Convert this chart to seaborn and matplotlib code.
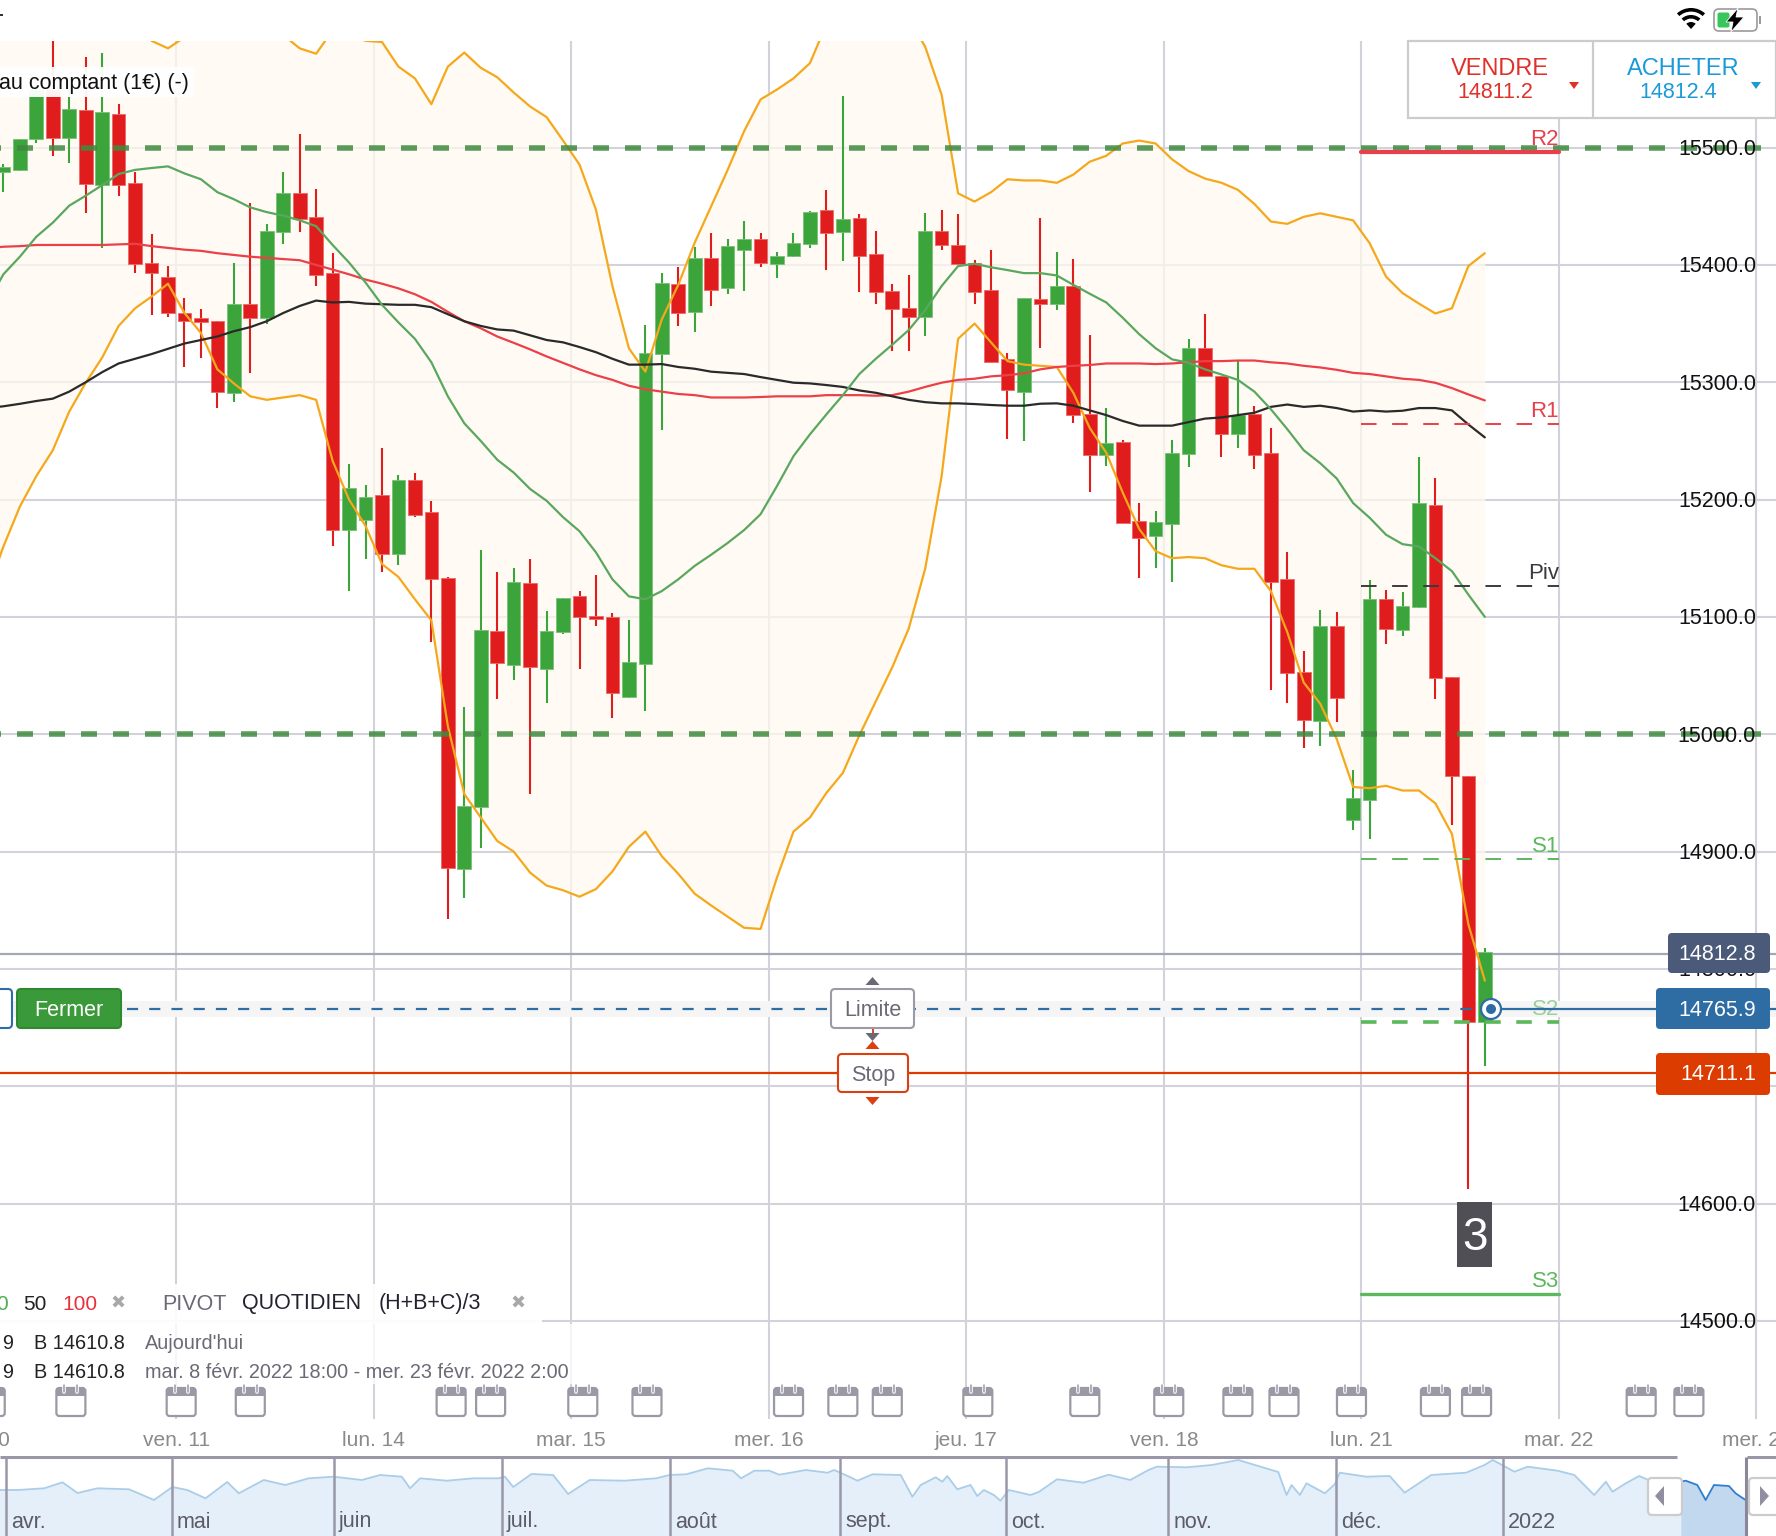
import matplotlib
matplotlib.use("Agg")
import matplotlib.pyplot as plt
from matplotlib.patches import FancyBboxPatch, Rectangle, Circle, Polygon, Wedge
from matplotlib.transforms import blended_transform_factory
import pandas as pd
import seaborn as sns

# candles, 2 hour bars
opens = [15479, 15481, 15507, 15549, 15508, 15532, 15468, 15529, 15470, 15402, 15390, 15359, 15355, 15352, 15291,
         15367, 15355, 15428, 15461, 15441, 15393, 15174, 15183, 15204, 15154, 15217, 15189, 15133.5, 14885, 14938,
         15088, 15059, 15129, 15056, 15087, 15118, 15101, 15100, 15032, 15060, 15324, 15384, 15360, 15406, 15380,
         15413, 15422, 15401, 15407.5, 15418, 15447, 15428, 15440, 15409, 15378, 15363, 15356, 15429, 15417, 15402,
         15378.5, 15319.5, 15292, 15371, 15367, 15382, 15273, 15238, 15249, 15182, 15169, 15179, 15239, 15329,
         15305.5, 15256, 15273, 15240, 15132, 15053, 15011, 15092.5, 14927, 14944, 15115.5, 15089, 15108.5, 15195,
         15049, 14964, 14754.4]
closes = [15483.5, 15507, 15549, 15508, 15533, 15469, 15530, 15468, 15401, 15393, 15359, 15352, 15351, 15292, 15367,
          15355, 15429, 15461, 15439, 15391, 15174, 15210, 15202.5, 15154, 15217, 15187, 15132, 14886, 14939, 15089,
          15060.5, 15130, 15057, 15088, 15116, 15100, 15098, 15035, 15061.6, 15325, 15384.5, 15359, 15405.5, 15379,
          15416, 15422, 15402, 15408, 15419, 15445, 15427, 15439, 15408, 15377, 15362, 15356, 15428.5, 15417, 15401,
          15377, 15317, 15293, 15372, 15367, 15382, 15272, 15238, 15248, 15180, 15167, 15181, 15240, 15329, 15305,
          15256, 15272.5, 15238, 15130, 15052, 15012, 15092, 15031, 14946, 15115, 15090, 15109, 15197, 15048, 14964,
          14755, 14814.6]
highs = [15486, 15507, 15560, 15595, 15560, 15577, 15581, 15537, 15479, 15426, 15399, 15372, 15362, 15352, 15402,
         15453, 15435, 15479, 15512, 15465, 15410, 15230, 15212, 15244, 15221, 15223, 15199, 15134, 15023, 15157,
         15138, 15141.5, 15149, 15105, 15116, 15122, 15136, 15103, 15097, 15349, 15393, 15398, 15415, 15427, 15422,
         15437.6, 15427, 15411, 15427, 15446, 15464, 15544, 15443, 15429, 15384, 15391, 15444, 15447, 15443, 15404,
         15413, 15325, 15372, 15440, 15411, 15405, 15340, 15278, 15251, 15197, 15190, 15251, 15336.5, 15358, 15305.5,
         15318, 15280, 15260.6, 15155, 15071, 15106, 15104, 14969.6, 15131.5, 15123, 15121, 15236.5, 15218, 15049,
         14964, 14818]
lows = [15462, 15480, 15504, 15493, 15487, 15444, 15414, 15459, 15393, 15357, 15356, 15313, 15321, 15278, 15283,
        15308, 15350, 15418, 15428, 15382, 15160, 15122, 15149, 15138, 15144, 15185, 15079, 14842.5, 14860, 14903,
        15030, 15046, 14949, 15027, 15085, 15056, 15092, 15014, 15031, 15020, 15259, 15348, 15343, 15365, 15375,
        15378, 15398, 15389, 15407, 15414, 15396, 15403, 15377, 15367, 15327, 15327, 15339, 15413, 15401, 15367,
        15317, 15252, 15250, 15329, 15361.5, 15265.5, 15206.5, 15229, 15180, 15133, 15142, 15130, 15228, 15305,
        15236, 15243.6, 15226, 15038, 15027, 14988, 14990, 15010.5, 14918.5, 14910.6, 15077, 15084, 15108, 15030,
        14923, 14612, 14717]

# indicator lines, first value is the bar before the left edge
bb_upper = [15660, 15660, 15655, 15650, 15650, 15645, 15640, 15630, 15620, 15606, 15591, 15584.6, 15594, 15610, 15625,
            15635, 15630, 15615, 15596, 15584.6, 15580, 15600, 15598, 15591, 15590, 15569, 15559, 15537, 15569, 15581,
            15568, 15560, 15547, 15535, 15526, 15506, 15485.5, 15447, 15382, 15329, 15309, 15353.6, 15383, 15419,
            15450, 15481, 15514, 15541, 15549.5, 15559, 15572, 15605, 15650, 15665, 15660, 15640, 15610, 15586, 15545,
            15461, 15454, 15462, 15473, 15472, 15472, 15470, 15477, 15488, 15493, 15503.5, 15506, 15503.5, 15490,
            15480, 15473.6, 15470, 15464, 15452, 15437, 15435, 15441, 15444, 15441, 15438, 15418.6, 15390, 15376,
            15367, 15358.6, 15363, 15399, 15410]
bb_lower = [15120, 15160, 15194, 15220, 15242, 15275, 15299.5, 15321, 15348, 15363, 15373, 15384, 15359, 15342, 15311,
            15299, 15288, 15285, 15287, 15289, 15285, 15233, 15200, 15177.5, 15145, 15134, 15115, 15097, 15007, 14949,
            14929, 14909, 14900, 14882, 14871, 14867, 14861.5, 14868, 14883, 14904, 14917, 14896, 14881, 14864, 14854,
            14844.5, 14835, 14834, 14878, 14917, 14929, 14950, 14967, 14999, 15028, 15057, 15090, 15141, 15220, 15337,
            15350, 15334, 15318, 15315, 15314, 15313, 15291, 15261, 15240, 15206, 15175, 15156, 15150, 15151, 15150,
            15144, 15141, 15141, 15122, 15087, 15044, 15026, 14996, 14955, 14954, 14956, 14952, 14952, 14941, 14915,
            14838, 14790]
sma_20 = [15367, 15392, 15407, 15424, 15436, 15450.5, 15459, 15468, 15477.5, 15481, 15482.6, 15484, 15478, 15473, 15462,
          15456, 15449, 15445, 15442, 15438, 15433, 15417, 15402, 15385, 15366, 15351, 15337, 15317, 15288, 15265,
          15250, 15234, 15223, 15209, 15199, 15185, 15173, 15155, 15132, 15117.5, 15115, 15122, 15132, 15143.5, 15153,
          15163, 15174, 15187.5, 15211.6, 15237, 15255.6, 15272.6, 15289, 15307, 15320, 15332, 15344.5, 15361.5,
          15382, 15399, 15401, 15398, 15395.6, 15393, 15393, 15391, 15383, 15375.4, 15368, 15355, 15341, 15329,
          15319.5, 15316.6, 15311, 15306.6, 15302, 15292, 15277, 15260, 15242, 15231, 15218, 15197, 15184.5, 15170,
          15162, 15160, 15150, 15139, 15119, 15100]
sma_50 = [15278, 15279.5, 15281.6, 15284, 15286, 15292, 15300, 15308.6, 15316, 15320, 15324, 15328.5, 15333, 15336, 15339,
          15343.5, 15347, 15352, 15359, 15365, 15369.6, 15368, 15368.5, 15367, 15366.5, 15366, 15366, 15364, 15358,
          15352, 15348, 15345, 15344, 15340, 15336, 15334, 15330, 15325.6, 15320, 15315, 15315, 15315.5, 15313,
          15311.5, 15309, 15308, 15307, 15304.4, 15302, 15299.6, 15299, 15297.6, 15296, 15293, 15291, 15288, 15285,
          15283, 15282, 15282, 15281.4, 15280.6, 15280, 15280, 15281.7, 15282, 15280, 15276, 15272, 15267, 15263,
          15263, 15263, 15266, 15269, 15270, 15272, 15274, 15279, 15281, 15279, 15280, 15278, 15275, 15276, 15275,
          15275.7, 15278, 15278, 15276, 15264, 15253]
sma_100 = [15414, 15415.5, 15416, 15417, 15417, 15417, 15417, 15417, 15417.5, 15418, 15416, 15414.5, 15413, 15412, 15410,
           15408.5, 15407, 15406, 15405, 15404, 15400, 15396, 15392, 15387.5, 15384, 15380, 15375, 15368.5, 15360,
           15352, 15346, 15339, 15333.6, 15328, 15322, 15316.5, 15311, 15306, 15302, 15297, 15294, 15292, 15290, 15289,
           15287, 15287, 15287, 15287.4, 15288, 15288, 15288, 15289, 15289, 15289, 15288.5, 15289, 15292, 15296,
           15299.6, 15302, 15303, 15305, 15306, 15307.6, 15311, 15313, 15314, 15314.7, 15316, 15316, 15316, 15315.5,
           15316, 15317, 15318, 15318, 15318.5, 15318.5, 15317, 15316, 15314, 15312.6, 15310.6, 15308, 15307, 15305,
           15303, 15302, 15299.5, 15295, 15289.6, 15284.5]

price_ticks = [15500, 15400, 15300, 15200, 15100, 15000, 14900, 14800, 14700, 14600, 14500]
round_levels = [15500, 15000]
day_positions = [-1.5, 10.5, 22.5, 34.5, 46.5, 58.5, 70.5, 82.5, 94.5, 106.5]
day_labels = ["jeu. 10", "ven. 11", "lun. 14", "mar. 15", "mer. 16", "jeu. 17", "ven. 18", "lun. 21", "mar. 22", "mer. 23"]
calendar_bars = [-0.8, 4.1, 10.8, 15, 27.2, 29.6, 35.2, 39.1, 47.7, 51, 53.7, 59.2, 65.7, 70.8, 75, 77.8, 81.9, 87,
                 89.5, 99.5, 102.4]

pivot_names = ["R2", "R1", "Piv", "S1", "S2", "S3"]
pivot_values = [15496, 15264, 15126, 14893.5, 14754.7, 14523]

last_price = 14812.8
position_price = 14765.9
stop_price = 14711.1

# navigator at the bottom
month_names = ["avr.", "mai", "juin", "juil.", "août", "sept.", "oct.", "nov.", "déc.", "2022"]
month_starts = [0, 0.998, 1.972, 2.982, 3.993, 5.015, 6.013, 6.988, 7.998, 9.0]
nav_months = [-0.04, 0.07, 0.23, 0.34, 0.43, 0.55, 0.74, 0.89, 1.0, 1.09, 1.2, 1.33, 1.4, 1.55, 1.68, 1.82, 1.97, 2.14,
              2.25, 2.38, 2.43, 2.49, 2.65, 2.81, 2.96, 3.0, 3.05, 3.16, 3.29, 3.38, 3.51, 3.72, 3.91, 3.99, 4.09, 4.22,
              4.37, 4.42, 4.5, 4.59, 4.65, 4.81, 4.94, 4.98, 5.07, 5.12, 5.21, 5.38, 5.45, 5.5, 5.59, 5.63, 5.66, 5.72,
              5.8, 5.84, 5.88, 5.94, 5.98, 6.03, 6.16, 6.21, 6.32, 6.48, 6.63, 6.76, 6.87, 6.92, 7.1, 7.25, 7.41, 7.61,
              7.65, 7.7, 7.73, 7.78, 7.82, 7.93, 7.99, 8.02, 8.18, 8.32, 8.41, 8.57, 8.78, 8.89, 8.94, 9.07, 9.15, 9.33,
              9.43, 9.55, 9.62, 9.66, 9.74, 9.82, 9.9, 10.07]
nav_heights = [46, 46, 47.7, 53.7, 43, 47.7, 46.7, 36, 49, 46, 37.7, 54, 42.7, 56, 51, 57.7, 59.3, 56, 61, 59.3, 47.7,
               57.7, 55.3, 57.7, 57.7, 59.3, 49, 62, 61, 42, 56, 55.3, 57.7, 61, 61.7, 67.7, 65.3, 57.7, 65.3, 65.3,
               61.3, 66, 63.3, 66, 59.3, 55.3, 61.7, 61, 39.3, 51, 58.7, 54.3, 60, 46.7, 51, 40, 46, 41, 35.3, 46, 41,
               44, 56.7, 53.3, 61.3, 56, 66, 69.3, 68.7, 71, 76, 66, 64, 41, 51, 41, 52.7, 42.7, 51.7, 63.3, 59.3, 60,
               43.3, 61, 63.3, 71, 76, 64.3, 69.3, 65.3, 61, 41, 54.3, 44.3, 52.7, 60, 54.3, 54.3]
sel_months = [10.07, 10.1, 10.17, 10.22, 10.27, 10.36, 10.4, 10.46]
sel_heights = [54.3, 55.3, 51, 36, 51, 50, 42.7, 36]

sns.set_theme(style="white")
plt.rcParams["font.family"] = ["Liberation Sans", "DejaVu Sans"]

W, H = 1776, 1536
XLIM = (-0.2066, 107.69)
YLIM = (14316.6, 15625.8)
fig = plt.figure(figsize=(W / 100, H / 100), dpi=100)

# main chart fills the whole image, limits come from the pixel positions of the grid
ax = fig.add_axes([0, 0, 1, 1], zorder=1)
ax.set_xlim(*XLIM)
ax.set_ylim(*YLIM)

nav = fig.add_axes([0, 0, 1, 80 / H], zorder=2)
nav.set_xlim(-0.036, 10.643)
nav.set_ylim(0, 80)

ui = fig.add_axes([0, 0, 1, 1], zorder=3)
ui.set_xlim(0, W)
ui.set_ylim(H, 0)
ui.patch.set_alpha(0)
for a in (ax, nav, ui):
    a.axis("off")

px_price = blended_transform_factory(ui.transData, ax.transData)

grid_color = "#d2d2da"
ax.hlines(price_ticks, *XLIM, color=grid_color, lw=1.5, zorder=1)
ax.vlines(day_positions[1:], 14416.5, YLIM[1], color=grid_color, lw=1.5, zorder=1)

line_idx = list(range(-1, 91))
ax.fill_between(line_idx, bb_lower, bb_upper, color="#fffaf0", alpha=0.72, lw=0, zorder=2)

# candles
bar_idx = list(range(len(opens)))
red, green = "#e01c1c", "#3ba43b"
colors = [green if c >= o else red for o, c in zip(opens, closes)]
edges = ["#79c079" if c >= o else "#ea6a6a" for o, c in zip(opens, closes)]
ax.vlines(bar_idx, lows, highs, colors=colors, lw=1.5, zorder=3)
ax.bar(bar_idx, [c - o for o, c in zip(opens, closes)], bottom=opens, width=0.83, color=colors,
       edgecolor=edges, linewidth=0.6, zorder=4)

# bollinger + moving averages
lines = pd.DataFrame({"bar": line_idx, "bb_upper": bb_upper, "bb_lower": bb_lower,
                      "sma_100": sma_100, "sma_50": sma_50, "sma_20": sma_20})
long_lines = lines.melt(id_vars="bar", var_name="line", value_name="price")
palette = {"bb_upper": "#f6a81c", "bb_lower": "#f6a81c", "sma_100": "#ec4048", "sma_50": "#2a2a2a", "sma_20": "#5aa75f"}
sns.lineplot(data=long_lines, x="bar", y="price", hue="line", palette=palette, estimator=None, sort=False,
             legend=False, linewidth=1.6, ax=ax, zorder=5)
ax.set_xlim(*XLIM)
ax.set_ylim(*YLIM)
ax.axis("off")

# round number levels
for level in round_levels:
    ax.plot([XLIM[0], 106.75], [level, level], color="#3f8a3f", alpha=0.85, lw=4,
            linestyle=(2.7, (2.88, 2.88)), dash_capstyle="butt", zorder=6)

# pivots
pivot_colors = ["#e8404a", "#e8404a", "#3a3a40", "#5cb85c", "#5cb85c", "#5cb85c"]
pivot_widths = [3.0, 1.4, 1.4, 1.4, 2.6, 2.4]
pivot_styles = ["-", (0, (8, 8)), (0, (8, 8)), (0, (8, 8)), (0, (4.3, 4.3)), "-"]
for name, value, col, lw, ls in zip(pivot_names, pivot_values, pivot_colors, pivot_widths, pivot_styles):
    ax.plot([82.5, 94.5], [value, value], color=col, lw=lw, linestyle=ls, dash_capstyle="butt", zorder=6)
    ax.annotate(name, xy=(1559, value), xycoords=px_price, xytext=(0, 1.5), textcoords="offset points",
                ha="right", va="bottom", fontsize=16, color=col, alpha=0.6 if name == "S2" else 1, zorder=6)

# order lines
ax.axhspan(position_price - 6.8, position_price + 6.8, color="#f5f5f6", lw=0, zorder=1.5)
ax.hlines(last_price, *XLIM, color="#a4a8b6", lw=1.6, zorder=2.5)
ax.plot([7.5, 90.4], [position_price, position_price], color="#2e6ca4", lw=1.6, linestyle=(0, (5, 5)), zorder=7)
ax.plot([90.4, XLIM[1]], [position_price, position_price], color="#2e6ca4", lw=1.6, zorder=7)
ax.hlines(stop_price, *XLIM, color="#dd3c00", lw=1.6, zorder=7)

# price axis labels
for tick in price_ticks:
    ax.annotate(f"{tick:.1f}", xy=(1756, tick), xycoords=px_price, xytext=(0, -1.4), textcoords="offset points",
                ha="right", va="center", fontsize=15.5, color="#111111", zorder=8)

# navigator
nav.fill_between(nav_months, 0, nav_heights, color="#e4eff9", lw=0, zorder=1)
nav.fill_between(sel_months, 0, sel_heights, color="#c2d8ee", lw=0, zorder=1)
sns.lineplot(x=nav_months, y=nav_heights, color="#aacde9", linewidth=1.3, estimator=None, sort=False, ax=nav, zorder=2)
sns.lineplot(x=sel_months, y=sel_heights, color="#2e7fcf", linewidth=1.3, estimator=None, sort=False, ax=nav, zorder=2)
nav.set_xlim(-0.036, 10.643)
nav.set_ylim(0, 80)
nav.axis("off")
for m, name in zip(month_starts, month_names):
    nav.vlines(m, 0, 79, color="#9a98a8", lw=1.8, zorder=3)
    nav.text(m + 0.03, 14, name, ha="left", va="center", fontsize=15.5, color="#5d5b66", zorder=3)
nav.hlines(79, -0.036, 10.05, color="#9a98a8", lw=2.2, zorder=3)
nav.hlines(79, 10.47, 10.643, color="#9a98a8", lw=2.2, zorder=3)
nav.vlines(10.46, 0, 79, color="#8a8898", lw=2.2, zorder=3)


def box(x0, y0, x1, y1, face, edge="none", lw=1.5, radius=4, z=5, alpha=1):
    ui.add_patch(FancyBboxPatch((x0 + radius, y0 + radius), x1 - x0 - 2 * radius, y1 - y0 - 2 * radius,
                                boxstyle=f"round,pad={radius},rounding_size={radius}", fc=face, ec=edge, lw=lw,
                                zorder=z, alpha=alpha))


def tri(cx, y0, y1, half, color, z=6):
    ui.add_patch(Polygon([(cx - half, y1), (cx + half, y1), (cx, y0)], closed=True, fc=color, ec="none", zorder=z))


def bar_px(i):
    return 3.4 + 16.46 * i


# white strips
ui.add_patch(Rectangle((0, 0), W, 41, fc="white", ec="none", zorder=2))
ui.add_patch(Rectangle((0, 67), 194, 30, fc="white", ec="none", alpha=0.95, zorder=2))
ui.add_patch(Rectangle((0, 1284), 542, 40, fc="white", ec="none", alpha=0.92, zorder=2))
ui.add_patch(Rectangle((0, 1324), 575, 60, fc="white", ec="none", alpha=0.8, zorder=2))

ui.text(189, 84, "au comptant (1€) (-)", ha="right", va="center", fontsize=15.5, color="#111111", zorder=3)

# trade panel top right
ui.add_patch(Rectangle((1408, 41), 368, 77, fc="white", ec="#cccccc", lw=1.6, zorder=4))
ui.plot([1593, 1593], [41, 118], color="#cccccc", lw=1.6, zorder=5)
ui.text(1500, 69, "VENDRE", ha="center", va="center", fontsize=17, color="#e0302a", zorder=6)
ui.text(1495, 92, "14811.2", ha="center", va="center", fontsize=15.5, color="#e0302a", zorder=6)
ui.text(1683, 69, "ACHETER", ha="center", va="center", fontsize=17, color="#1a9ad9", zorder=6)
ui.text(1678, 92, "14812.4", ha="center", va="center", fontsize=15.5, color="#1a9ad9", zorder=6)
ui.add_patch(Polygon([(1569, 82), (1579, 82), (1574, 89)], fc="#e0302a", ec="none", zorder=6))
ui.add_patch(Polygon([(1751, 82), (1761, 82), (1756, 89)], fc="#1a9ad9", ec="none", zorder=6))

# status bar
for r in (7, 14, 21):
    ui.add_patch(Wedge((1691, 29), r, 228, 312, width=3.6 if r > 7 else 7, fc="black", ec="none", zorder=6))
ui.add_patch(FancyBboxPatch((1716, 11), 39, 18, boxstyle="round,pad=2,rounding_size=5", fc="white", ec="#9a9a9a",
                            lw=1.2, zorder=6))
ui.add_patch(FancyBboxPatch((1718, 13), 11, 14, boxstyle="round,pad=0.5,rounding_size=2", fc="#35c759", ec="none",
                            zorder=7))
ui.add_patch(Polygon([(1738, 8), (1726, 22), (1733, 22), (1731, 32), (1744, 17), (1736, 17)], fc="black", ec="white",
                     lw=0.6, zorder=8))
ui.add_patch(Rectangle((1759, 16), 2, 8, fc="#9a9a9a", ec="none", zorder=6))
ui.add_patch(Rectangle((0, 14), 3, 2, fc="#333333", ec="none", zorder=6))

# order controls
box(-10, 989, 12, 1028, "white", "#2e6ca4")
box(17, 989, 121, 1028, "#3a9a3a", "#2f8a2f")
ui.text(69, 1011, "Fermer", ha="center", va="center", fontsize=15.5, color="white", zorder=6)
box(831, 989, 914, 1028, "white", "#9a9aa8")
ui.text(872.5, 1011, "Limite", ha="center", va="center", fontsize=15.5, color="#6a6a76", zorder=6)
tri(872.5, 977, 985, 7, "#6a6a76")
ui.plot([872.5, 872.5], [1028, 1034], color="#dd4010", lw=1.4, zorder=4)
ui.add_patch(Polygon([(865.5, 1033), (879.5, 1033), (872.5, 1041)], fc="#6a6a76", ec="none", zorder=6))
tri(872.5, 1041, 1049, 7, "#dd4010")
box(838, 1054, 908, 1092, "white", "#dd4010")
ui.text(873, 1075, "Stop", ha="center", va="center", fontsize=15.5, color="#6a6a76", zorder=6)
ui.add_patch(Polygon([(865.5, 1097), (879.5, 1097), (872.5, 1105)], fc="#dd4010", ec="none", zorder=6))

ui.add_patch(Circle((1491, 1009), 10, fc="white", ec="#2e6ca4", lw=1.6, zorder=7))
ui.add_patch(Circle((1491, 1009), 5, fc="#2e6ca4", ec="none", zorder=8))

# price badges
box(1668, 933, 1770, 973, "#4a5a78")
ui.text(1756, 955, "14812.8", ha="right", va="center", fontsize=15.5, color="white", zorder=6)
box(1656, 988, 1770, 1029, "#2e6ca4")
ui.text(1756, 1011, "14765.9", ha="right", va="center", fontsize=15.5, color="white", zorder=6)
box(1656, 1053, 1770, 1095, "#dd3c00")
ui.text(1756, 1075, "14711.1", ha="right", va="center", fontsize=15.5, color="white", zorder=6)

ui.add_patch(Rectangle((1457, 1202), 35, 65, fc="#4f4f55", ec="none", zorder=6))
ui.text(1474.5, 1238, "3", ha="center", va="center", fontsize=33, color="white", zorder=7)

# legend strip
strip_y = 1304
ui.text(8, strip_y, "0", ha="right", va="center", fontsize=15, color="#4caf50", zorder=6)
ui.text(23, strip_y, "50", ha="left", va="center", fontsize=15, color="#222222", zorder=6)
ui.text(62, strip_y, "100", ha="left", va="center", fontsize=15, color="#e8303a", zorder=6)
ui.text(118.5, strip_y, "✖", ha="center", va="center", fontsize=13, color="#a8a8a8", zorder=6,
        family=["DejaVu Sans"])
ui.text(162, strip_y, "PIVOT", ha="left", va="center", fontsize=15.5, color="#6a6a76", zorder=6)
ui.text(242, strip_y, "QUOTIDIEN", ha="left", va="center", fontsize=15.5, color="#222230", zorder=6)
ui.text(379, strip_y, "(H+B+C)/3", ha="left", va="center", fontsize=15.5, color="#222230", zorder=6)
ui.text(518, strip_y, "✖", ha="center", va="center", fontsize=13, color="#a8a8a8", zorder=6,
        family=["DejaVu Sans"])

for y, right_text in [(1343.5, "Aujourd'hui"), (1372.5, "mar. 8 févr. 2022 18:00 - mer. 23 févr. 2022 2:00")]:
    ui.text(13, y, "9", ha="right", va="center", fontsize=14.3, color="#222222", zorder=6)
    ui.text(34, y, "B 14610.8", ha="left", va="center", fontsize=14.3, color="#222222", zorder=6)
    ui.text(145, y, right_text, ha="left", va="center", fontsize=14.3, color="#6a6a76", zorder=6)

# calendar event icons
cal_color = "#9a9aa6"
for i in calendar_bars:
    cx = bar_px(i)
    ui.add_patch(FancyBboxPatch((cx - 13.5, 1389), 27, 26, boxstyle="round,pad=1,rounding_size=3", fc="white",
                                ec=cal_color, lw=1.6, zorder=6))
    ui.add_patch(Rectangle((cx - 14.5, 1388), 29, 8, fc=cal_color, ec="none", zorder=7))
    for dx in (-6.5, 6.5):
        ui.plot([cx + dx, cx + dx], [1385, 1392], color="white", lw=2.6, solid_capstyle="round", zorder=8)
        ui.plot([cx + dx, cx + dx], [1385, 1392], color=cal_color, lw=1.1, solid_capstyle="round", zorder=9)

# day labels
for pos, label in zip(day_positions, day_labels):
    ui.text(bar_px(pos), 1441, label, ha="center", va="center", fontsize=15, color="#8a8a8a", zorder=6)

# navigator handles
box(1648, 1478, 1682, 1515, "white", "#cccccc", lw=1.6)
ui.add_patch(Polygon([(1664, 1486), (1664, 1506), (1655, 1496)], fc="#8f8f9f", ec="none", zorder=6))
box(1749, 1478, 1790, 1515, "white", "#cccccc", lw=1.6)
ui.add_patch(Polygon([(1760, 1486), (1760, 1506), (1769, 1496)], fc="#8f8f9f", ec="none", zorder=6))

fig.savefig("out.png", dpi=100)
